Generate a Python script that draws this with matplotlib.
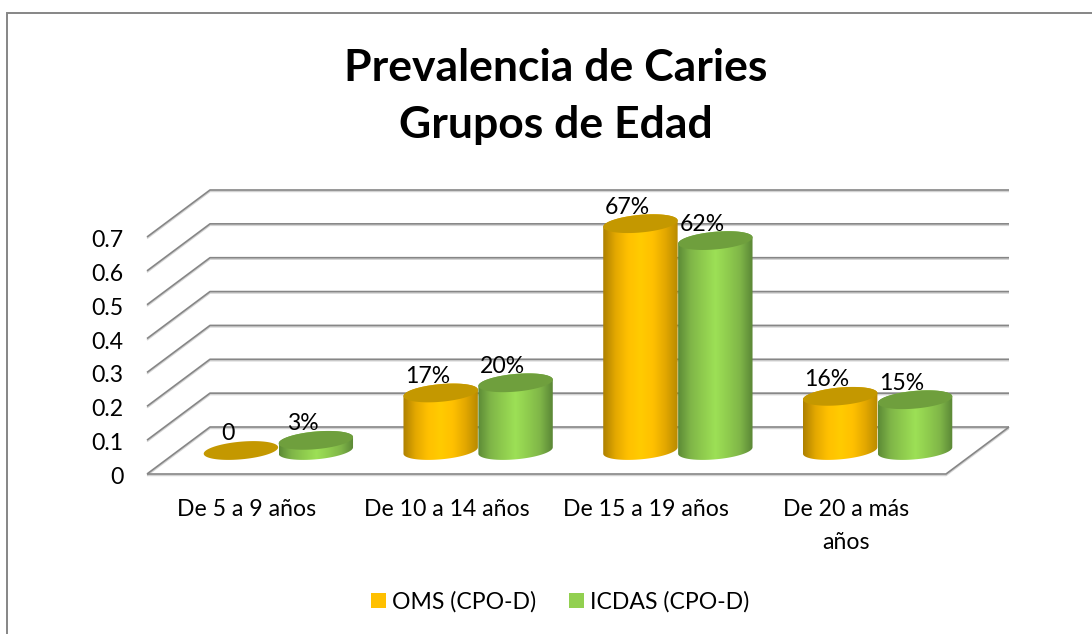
import numpy as np
import matplotlib
matplotlib.use("Agg")
import matplotlib.pyplot as plt
from matplotlib.colors import LinearSegmentedColormap
from matplotlib.patches import Patch, PathPatch, Polygon, Rectangle
from matplotlib.path import Path
from matplotlib.transforms import ScaledTranslation
import matplotlib.patheffects as pe

title = "Prevalencia de Caries\nGrupos de Edad"
categories = ["De 5 a 9 años", "De 10 a 14 años", "De 15 a 19 años", "De 20 a más\naños"]
oms_values = [0.0, 0.17, 0.67, 0.16]
icdas_values = [0.03, 0.20, 0.62, 0.15]
oms_labels = ["0", "17%", "67%", "16%"]
icdas_labels = ["3%", "20%", "62%", "15%"]
y_ticks = [0, 0.1, 0.2, 0.3, 0.4, 0.5, 0.6, 0.7]
y_tick_labels = ["0", "0.1", "0.2", "0.3", "0.4", "0.5", "0.6", "0.7"]
series_names = ["OMS (CPO-D)", "ICDAS (CPO-D)"]

W, H = 1092, 634
FS = 16.6
plt.rcParams["font.family"] = ["Lato", "DejaVu Sans"]
fig = plt.figure(figsize=(W / 100, H / 100), dpi=100, facecolor="white")
ax = fig.add_axes([147 / W, (H - 474) / H, (946 - 147) / W, (474 - 237) / H])
ax.set_xlim(0, 4)
ax.set_ylim(0, 0.7)
ax.patch.set_visible(False)
for s in ax.spines.values():
    s.set_visible(False)

GREY = "#868686"
DX = 63 / (799 / 4)
DY = 47 / (237 / 0.7)
px = fig.dpi_scale_trans


def wall_line(xs, ys):
    ax.plot(xs, ys, color=GREY, lw=1.2, clip_on=False, zorder=1, solid_capstyle="butt",
            path_effects=[pe.SimpleLineShadow(offset=(0, -1.0), shadow_color="#c8c8c8", alpha=0.8),
                          pe.Normal()])


for v in y_ticks:
    wall_line([0, DX, 4 + DX], [v, v + DY, v + DY])
wall_line([0, 4, 4 + DX], [0, 0, DY])

cmap_o = LinearSegmentedColormap.from_list(
    "o", ["#AD8000", "#E3A800", "#FFC000", "#FFCB00", "#FFC000", "#E3A800", "#B88A00"])
cmap_g = LinearSegmentedColormap.from_list(
    "g", ["#5C8A36", "#7FB548", "#8FCC4E", "#9DE056", "#8FCC4E", "#7FB548", "#5A8636"])
TOP_O, TOP_G = "#C49800", "#6F9F3D"

A = 35 / (799 / 4)
KX, KY = 0.2 * DX, 0.2 * DY
BAR_W = 0.375


def outline(cx, y0, t):
    return cx + A * np.cos(t) + KX * np.sin(t), y0 + KY * np.sin(t)


def cylinder(cx, value, cmap, top_color, z):
    y0 = DY / 2
    t_r = np.arctan2(KX, A)
    xb, yb = outline(cx, y0, np.linspace(t_r - np.pi, t_r, 80))
    xt, yt = outline(cx, y0 + value, np.linspace(t_r, t_r + np.pi, 80))
    verts = np.column_stack([np.r_[xb, xt], np.r_[yb, yt]])
    if value > 0:
        im = ax.imshow(np.linspace(0, 1, 256)[None, :], cmap=cmap, aspect="auto",
                       extent=[verts[:, 0].min(), verts[:, 0].max(), verts[:, 1].min(), verts[:, 1].max()],
                       zorder=z, interpolation="bilinear")
        clip = PathPatch(Path(np.vstack([verts, verts[0]]), closed=True), transform=ax.transData,
                         fc="none", ec="none")
        ax.add_patch(clip)
        clip.set_clip_on(False)
        im.set_clip_path(clip)
        im.set_clip_box(fig.bbox)
    tt = np.linspace(0, 2 * np.pi, 160)
    xe, ye = outline(cx, y0 + value, tt)
    ax.add_patch(Polygon(np.column_stack([xe, ye]), closed=True, fc=top_color, ec="none",
                         zorder=z + 0.1, clip_on=False))


label_offset = ScaledTranslation(-13 / 100, 16.5 / 100, px)
for i in range(len(categories)):
    c = i + 0.5 + DX / 2
    x_o, x_g = c - BAR_W / 2, c + BAR_W / 2
    cylinder(x_o, oms_values[i], cmap_o, TOP_O, 3 + i * 2)
    cylinder(x_g, icdas_values[i], cmap_g, TOP_G, 4 + i * 2)
    for x, v, lab in ((x_o, oms_values[i], oms_labels[i]), (x_g, icdas_values[i], icdas_labels[i])):
        ax.text(x, v + DY / 2, lab, ha="center", va="center", fontsize=FS, color="black",
                transform=ax.transData + label_offset, zorder=20, clip_on=False)

ax.set_xlim(0, 4)
ax.set_ylim(0, 0.7)

ax.set_yticks(y_ticks)
ax.set_yticklabels(y_tick_labels, fontsize=FS)
ax.tick_params(axis="y", length=0, pad=17)
for lab in ax.get_yticklabels():
    lab.set_transform(lab.get_transform() + ScaledTranslation(0, -1.5 / 100, px))
ax.set_xticks([i + 0.5 for i in range(len(categories))])
ax.set_xticklabels(categories, fontsize=FS, linespacing=1.72, va="top")
ax.tick_params(axis="x", length=0, pad=18)

fig.text(555.5 / W, 1 - 96.5 / H, title, ha="center", va="center", fontsize=32,
         fontweight="bold", linespacing=1.49, color="black")

fig.add_artist(Rectangle((7 / W, -10 / H), (W + 10) / W, (H - 12.5 + 10) / H, transform=fig.transFigure,
                         fc="none", ec=GREY, lw=1.4, clip_on=False))

handles = [Patch(fc="#FFC000", ec="none"), Patch(fc="#92D050", ec="none")]
fig.legend(handles, series_names, loc="center", bbox_to_anchor=(560 / W, 1 - 602 / H), ncol=2,
           frameon=False, fontsize=FS, handlelength=0.65, handleheight=0.65,
           handletextpad=0.25, columnspacing=1.43)

fig.savefig("out.png", dpi=100)
